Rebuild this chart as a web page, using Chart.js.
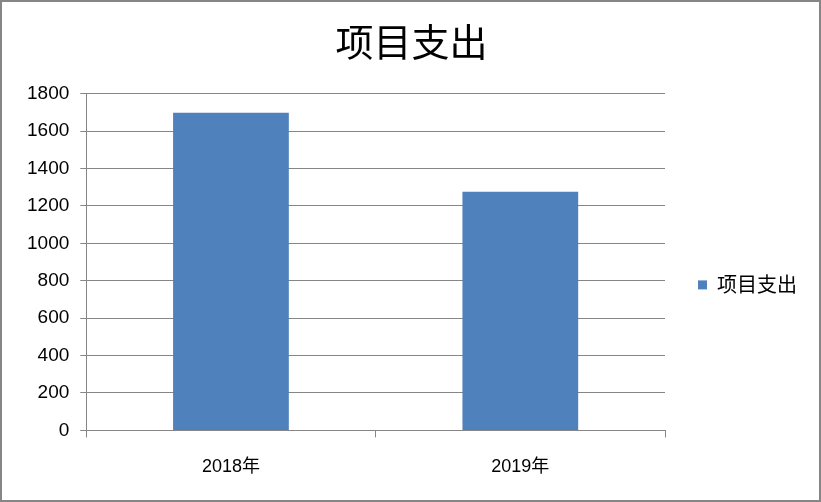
<!DOCTYPE html>
<html>
<head>
<meta charset="utf-8">
<script src="https://cdn.jsdelivr.net/npm/chart.js@4/dist/chart.umd.min.js"></script>
<style>
  html, body { margin: 0; padding: 0; background: #fff; }
  #wrap { width: 821px; height: 502px; box-sizing: border-box; border: 2px solid #868686; position: relative; }
  #wrap canvas { display: block; }
</style>
</head>
<body>
<div id="wrap"><canvas id="c" width="817" height="498"></canvas></div>
<script>
// 项目支出 chart data
var years = ['2018年', '2019年'];
var spending = [1698, 1276];
var seriesName = '项目支出';
var yMax = 1800;
var yStep = 200;

var cjk = '"Noto Sans CJK SC", "Noto Sans", sans-serif';
var gridColor = '#868686';

new Chart(document.getElementById('c').getContext('2d'), {
  type: 'bar',
  data: {
    labels: years,
    datasets: [{ label: seriesName, data: spending, backgroundColor: '#4F81BD', barPercentage: 0.4, categoryPercentage: 1 }]
  },
  options: {
    responsive: false, animation: false, devicePixelRatio: 1,
    layout: { padding: { left: 14, right: 12, top: 0, bottom: 3 } },
    plugins: {
      title: { display: true, text: '项目支出', color: '#000', font: { family: cjk, size: 38, weight: 'normal' }, padding: { top: 17, bottom: 29 } },
      legend: {
        position: 'right',
        title: { display: true, text: ' ', padding: 0, font: { size: 59 } },
        labels: { color: '#000', boxWidth: 9, boxHeight: 9, padding: 33, font: { family: cjk, size: 20 } }
      },
      tooltip: { enabled: false }
    },
    scales: {
      x: {
        grid: { drawOnChartArea: false, drawTicks: true, tickLength: 7, color: gridColor },
        border: { color: gridColor },
        ticks: { color: '#000', padding: 19, font: { family: '"Liberation Sans", "Noto Sans CJK SC", sans-serif', size: 18 } }
      },
      y: {
        min: 0, max: yMax,
        grid: { color: gridColor, tickLength: 6 },
        border: { color: gridColor },
        ticks: {
          stepSize: yStep, color: '#000', padding: 11, font: { family: '"Liberation Sans", sans-serif', size: 19 },
          callback: function(v) { return String(v); }
        }
      }
    }
  }
});
</script>
</body>
</html>
